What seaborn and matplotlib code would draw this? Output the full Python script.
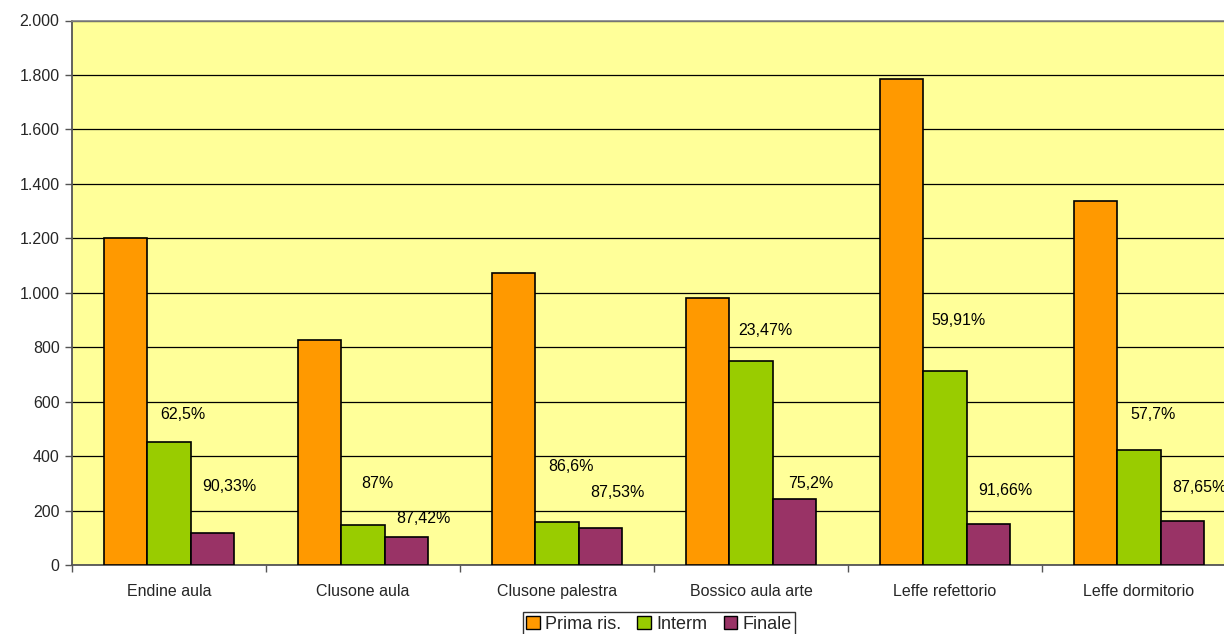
import pandas as pd
import numpy as np
import matplotlib
matplotlib.use("Agg")
import matplotlib.pyplot as plt
import matplotlib.ticker as mticker
import seaborn as sns

# ---------- Data ----------
sites = ["Endine aula", "Clusone aula", "Clusone palestra",
         "Bossico aula arte", "Leffe refettorio", "Leffe dormitorio"]
series = ["Prima ris.", "Interm", "Finale"]
prima = [1200, 826, 1071, 980, 1784, 1336]
interm = [450, 147, 158, 749, 714, 422]
finale = [116, 104, 135, 243, 149, 163]

pct_interm = ["62,5%", "87%", "86,6%", "23,47%", "59,91%", "57,7%"]
pct_finale = ["90,33%", "87,42%", "87,53%", "75,2%", "91,66%", "87,65%"]
# heights where the percentage labels sit
pct_interm_y = [554, 301, 363, 862, 899, 554]
pct_finale_y = [290, 169, 268, 301, 275, 286]

COLORS = ["#FF9900", "#99CC00", "#993366"]
W, H, DPI = 1224, 634, 100


def main():
    sns.set_theme(style="white")
    plt.rcParams["font.family"] = ["Liberation Sans", "DejaVu Sans"]

    df = pd.DataFrame({
        "site": sites * 3,
        "serie": [series[0]] * 6 + [series[1]] * 6 + [series[2]] * 6,
        "value": prima + interm + finale,
    })

    fig = plt.figure(figsize=(W / DPI, H / DPI), dpi=DPI)
    # plot area runs slightly past the right edge, like the original
    left, right, top, bottom = 72, 1236, 20.5, 565
    ax = fig.add_axes([left / W, (H - bottom) / H,
                       (right - left) / W, (bottom - top) / H])
    ax.set_facecolor("#FFFF99")

    sns.barplot(data=df, x="site", y="value", hue="serie", order=sites,
                hue_order=series, palette=COLORS, width=0.665, gap=0,
                edgecolor="black", linewidth=1.2, saturation=1, ax=ax,
                zorder=3)

    ax.set_xlim(-0.5, len(sites) - 0.5)
    ax.set_ylim(0, 2000)
    ax.yaxis.set_major_locator(mticker.MultipleLocator(200))
    ax.yaxis.set_major_formatter(mticker.FuncFormatter(
        lambda v, p: f"{int(v):,}".replace(",", ".")))
    ax.grid(axis="y", color="black", linewidth=0.9, zorder=0)
    ax.set_axisbelow(True)

    # category separators as major ticks, names on minor ticks
    ax.set_xticks(np.arange(-0.5, len(sites), 1.0))
    ax.set_xticklabels([])
    ax.set_xticks(np.arange(len(sites)), minor=True)
    ax.set_xticklabels(sites, minor=True)
    ax.tick_params(axis="x", which="major", length=5, width=1,
                   color="#555555", direction="out", bottom=True)
    ax.tick_params(axis="x", which="minor", length=0, pad=14, labelsize=11.5)
    ax.tick_params(axis="y", length=5, width=1, color="#555555",
                   direction="out", left=True, labelsize=11.5, pad=4)
    ax.set_xlabel("")
    ax.set_ylabel("")

    for side in ["left", "bottom"]:
        ax.spines[side].set_color("#555555")
        ax.spines[side].set_linewidth(1.3)
    ax.spines["top"].set_color("#888888")
    ax.spines["right"].set_visible(False)

    for i in range(len(sites)):
        ax.text(i + 0.072, pct_interm_y[i], pct_interm[i], ha="center",
                va="center", fontsize=11.5, color="black", zorder=5)
        ax.text(i + 0.31, pct_finale_y[i], pct_finale[i], ha="center",
                va="center", fontsize=11.5, color="black", zorder=5)

    ax.legend_.remove()
    handles = [plt.Rectangle((0, 0), 1, 1, facecolor=c, edgecolor="black",
                             linewidth=1) for c in COLORS]
    fig.legend(handles, series, loc="upper center",
               bbox_to_anchor=(659 / W, (H - 612) / H), ncol=3,
               frameon=True, fancybox=False, edgecolor="black",
               fontsize=13, handlelength=0.75, handleheight=0.75,
               handletextpad=0.3, columnspacing=0.9, borderpad=0.2,
               borderaxespad=0)

    fig.savefig("out.png", dpi=DPI)
    plt.close(fig)


if __name__ == "__main__":
    main()
